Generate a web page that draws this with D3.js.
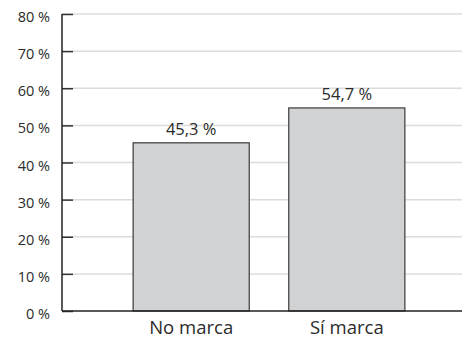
<!DOCTYPE html>
<html>
<head>
<meta charset="utf-8">
<script src="https://cdn.jsdelivr.net/npm/d3@7"></script>
<style>
  html, body { margin: 0; padding: 0; background: #fff; }
  svg { display: block; }
  text { font-family: "Open Sans", "Lato", sans-serif; fill: #2b2b2b; }
</style>
</head>
<body>
<div id="chart"></div>
<script>
// Share of respondents by brand mention
const categories = ["No marca", "Sí marca"];
const values = [45.3, 54.7];
const valueLabels = ["45,3 %", "54,7 %"];
const tickValues = [0, 10, 20, 30, 40, 50, 60, 70, 80];
const tickLabels = ["0 %", "10 %", "20 %", "30 %", "40 %", "50 %", "60 %", "70 %", "80 %"];

const W = 462, H = 338;
const plotLeft = 62, plotTop = 14, plotBottom = 311;

const svg = d3.select("#chart").append("svg")
  .attr("width", W).attr("height", H);

const y = d3.scaleLinear().domain([0, 80]).range([plotBottom, plotTop]);
const x = d3.scaleBand().domain(categories).range([plotLeft, 476])
  .paddingInner(0.254).paddingOuter(0.457);

// horizontal gridlines
svg.append("g").selectAll("line").data(tickValues.slice(1)).join("line")
  .attr("x1", plotLeft).attr("x2", W)
  .attr("y1", d => y(d)).attr("y2", d => y(d))
  .attr("stroke", "#dcdcdc").attr("stroke-width", 1.5);

// y axis with inward ticks
const yAxis = d3.axisRight(y).tickValues(tickValues).tickSize(11).tickFormat("");
const gy = svg.append("g").attr("transform", `translate(${plotLeft},0)`).call(yAxis);
gy.select(".domain").remove();
gy.selectAll(".tick line").attr("stroke", "#333").attr("stroke-width", 1.5);

svg.append("g").selectAll("text").data(tickValues).join("text")
  .attr("x", 50).attr("y", d => y(d) + 8)
  .attr("text-anchor", "end")
  .style("font-size", "14.5px")
  .text((d, i) => tickLabels[i]);

// bars
svg.append("g").selectAll("rect").data(values).join("rect")
  .attr("x", (d, i) => x(categories[i]))
  .attr("y", d => y(d))
  .attr("width", x.bandwidth())
  .attr("height", d => y(0) - y(d))
  .attr("fill", "#d1d2d4").attr("stroke", "#3a3a3a").attr("stroke-width", 1.2);

// value labels
svg.append("g").selectAll("text").data(values).join("text")
  .attr("x", (d, i) => x(categories[i]) + x.bandwidth() / 2)
  .attr("y", d => y(d) - 8)
  .attr("text-anchor", "middle")
  .style("font-size", "16.5px")
  .text((d, i) => valueLabels[i]);

// axis lines
svg.append("line").attr("x1", plotLeft).attr("x2", plotLeft).attr("y1", plotTop).attr("y2", plotBottom)
  .attr("stroke", "#222").attr("stroke-width", 1.5);
svg.append("line").attr("x1", plotLeft).attr("x2", W).attr("y1", plotBottom).attr("y2", plotBottom)
  .attr("stroke", "#222").attr("stroke-width", 1.5);

// category labels
svg.append("g").selectAll("text").data(categories).join("text")
  .attr("x", d => x(d) + x.bandwidth() / 2)
  .attr("y", 334)
  .attr("text-anchor", "middle")
  .style("font-size", "18.5px")
  .text(d => d);
</script>
</body>
</html>
